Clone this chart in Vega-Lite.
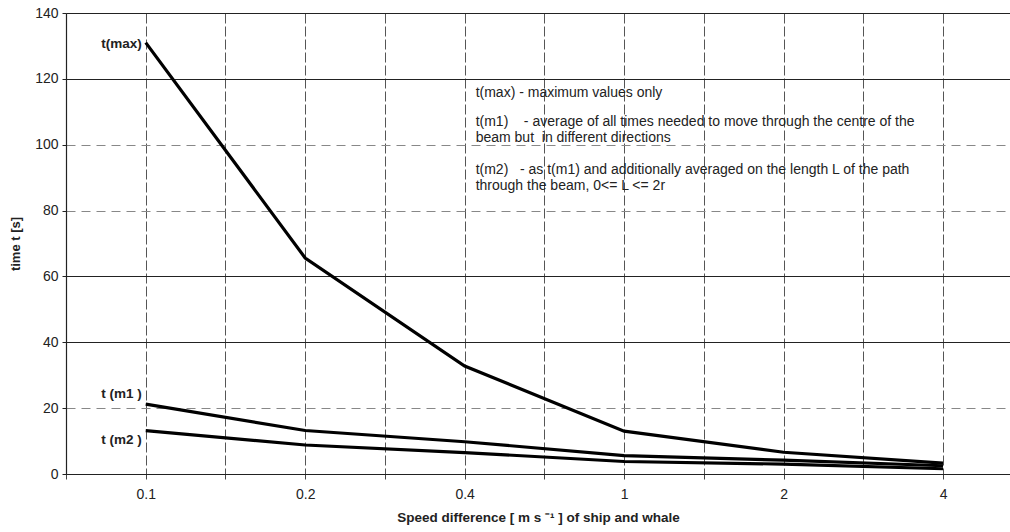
{
  "$schema": "https://vega.github.io/schema/vega-lite/v6.json",
  "autosize": "none",
  "padding": {"left": 66, "top": 13, "right": 0, "bottom": 58},
  "width": 944,
  "height": 461,
  "background": "white",
  "config": {
    "font": "Liberation Sans",
    "view": {"stroke": null}
  },
  "datasets": {
    "lines": [
      {"series": "t(max)", "speed": "0.1", "i": 0, "t": 131},
      {"series": "t(max)", "speed": "0.2", "i": 1, "t": 65.6},
      {"series": "t(max)", "speed": "0.4", "i": 2, "t": 32.8},
      {"series": "t(max)", "speed": "1", "i": 3, "t": 13},
      {"series": "t(max)", "speed": "2", "i": 4, "t": 6.6},
      {"series": "t(max)", "speed": "4", "i": 5, "t": 3.3},
      {"series": "t(m1)", "speed": "0.1", "i": 0, "t": 21.2},
      {"series": "t(m1)", "speed": "0.2", "i": 1, "t": 13.2},
      {"series": "t(m1)", "speed": "0.4", "i": 2, "t": 9.8},
      {"series": "t(m1)", "speed": "1", "i": 3, "t": 5.6},
      {"series": "t(m1)", "speed": "2", "i": 4, "t": 4.2},
      {"series": "t(m1)", "speed": "4", "i": 5, "t": 2.5},
      {"series": "t(m2)", "speed": "0.1", "i": 0, "t": 13.2},
      {"series": "t(m2)", "speed": "0.2", "i": 1, "t": 8.8},
      {"series": "t(m2)", "speed": "0.4", "i": 2, "t": 6.5},
      {"series": "t(m2)", "speed": "1", "i": 3, "t": 3.8},
      {"series": "t(m2)", "speed": "2", "i": 4, "t": 3.0},
      {"series": "t(m2)", "speed": "4", "i": 5, "t": 1.6}
    ],
    "labels": [
      {"i": 0, "t": 130.6, "label": "t(max)"},
      {"i": 0, "t": 24.2, "label": "t (m1 )"},
      {"i": 0, "t": 10.3, "label": "t (m2 )"}
    ],
    "notes": [
      {"i": 2, "t": 115.7, "note": "t(max) - maximum values only"},
      {"i": 2, "t": 106.9, "note": "t(m1)\u00a0\u00a0\u00a0\u00a0- average of all times needed to move through the centre of the"},
      {"i": 2, "t": 102.0, "note": "beam but\u00a0\u00a0in different directions"},
      {"i": 2, "t": 92.3, "note": "t(m2)\u00a0\u00a0\u00a0- as t(m1) and additionally averaged on the length L of the path"},
      {"i": 2, "t": 87.5, "note": "through the beam, 0<= L <= 2r"}
    ]
  },
  "encoding": {
    "x": {
      "field": "i",
      "type": "quantitative",
      "scale": {"domain": [-0.5, 5.42], "nice": false, "zero": false},
      "axis": {
        "values": [-0.5, 0, 0.5, 1, 1.5, 2, 2.5, 3, 3.5, 4, 4.5, 5],
        "labelExpr": "datum.value == 0 ? '0.1' : datum.value == 1 ? '0.2' : datum.value == 2 ? '0.4' : datum.value == 3 ? '1' : datum.value == 4 ? '2' : datum.value == 5 ? '4' : ''",
        "title": "Speed difference [ m s ⁻¹ ] of ship and whale",
        "titleFont": "Liberation Sans",
        "titleFontSize": 13.5,
        "titleFontWeight": "bold",
        "titleColor": "#222",
        "titlePadding": 9,
        "labelFontSize": 14,
        "labelColor": "#222",
        "labelPadding": 8,
        "labelFlush": false,
        "grid": true,
        "gridColor": "#555",
        "gridDash": [10, 3],
        "gridWidth": 1,
        "tickColor": "#444",
        "tickSize": 5,
        "domain": true,
        "domainColor": "#222",
        "domainWidth": 1.2
      }
    },
    "y": {
      "field": "t",
      "type": "quantitative",
      "scale": {"domain": [0, 140], "nice": false},
      "axis": {
        "values": [0, 20, 40, 60, 80, 100, 120, 140],
        "title": "time t [s]",
        "titleFontSize": 13,
        "titleFontWeight": "bold",
        "titleColor": "#222",
        "titlePadding": 12,
        "labelFontSize": 14,
        "labelColor": "#222",
        "labelPadding": 4,
        "grid": true,
        "gridColor": {"condition": {"test": "datum.value == 20 || datum.value == 80 || datum.value == 100", "value": "#888"}, "value": "#222"},
        "gridDash": {"condition": {"test": "datum.value == 20 || datum.value == 80 || datum.value == 100", "value": [9, 6]}, "value": []},
        "gridWidth": 1.2,
        "tickColor": "#222",
        "tickSize": 4,
        "domain": true,
        "domainColor": "#222",
        "domainWidth": 1.2
      }
    }
  },
  "layer": [
    {
      "data": {"name": "lines"},
      "mark": {"type": "line", "color": "black", "strokeWidth": 3.2},
      "encoding": {"detail": {"field": "series"}}
    },
    {
      "data": {"name": "labels"},
      "mark": {"type": "text", "align": "right", "baseline": "middle", "fontSize": 13.5, "fontWeight": "bold", "color": "#222", "dx": -4},
      "encoding": {"text": {"field": "label"}}
    },
    {
      "data": {"name": "notes"},
      "mark": {"type": "text", "align": "left", "baseline": "middle", "fontSize": 14, "color": "#222", "dx": 11},
      "encoding": {"text": {"field": "note"}}
    }
  ]
}
